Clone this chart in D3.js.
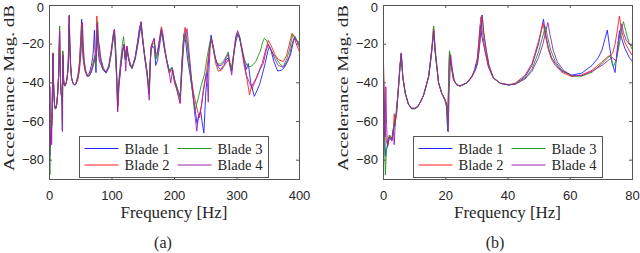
<!DOCTYPE html>
<html lang="en">
<head>
<meta charset="utf-8">
<title>Blade accelerance FRF</title>
<script src="https://d3js.org/d3.v7.min.js"></script>
<style>
  body { margin: 0; background: #fff; }
  svg { display: block; }
  .tick text { font-family: "Liberation Sans", Arial, sans-serif; font-size: 13px; fill: #262626; }
  .tick line { stroke: #555; }
</style>
</head>
<body>
<script>

// blade names (legend) and colours
const bladeNames = ["Blade 1", "Blade 2", "Blade 3", "Blade 4"];
const bladeColors = ["#1f1fff", "#ff1f1f", "#1f961f", "#9a22b0"];

// [frequency Hz, accelerance dB]
const blade1 = [
  [0,-35],[0.3,-62],[0.6,-78],[0.9,-74],[1.3,-73],[1.9,-68],[2.7,-70],[3.4,-63],[4.0,-57],[4.8,-43],[5.3,-32],[5.7,-25],
  [6.2,-37],[7.0,-45.4],[8.0,-51],[9.0,-53.2],[10.0,-53.2],[11.0,-52.3],[12.0,-49.5],[12.9,-46.3],[13.8,-41],[14.5,-36.8],
  [15.2,-28],[15.7,-21],[16.1,-14],[16.6,-24],[17.7,-40],[18.7,-45.4],[19.8,-49],[20.3,-52],[20.6,-65],[20.9,-45],[21.2,-26],
  [21.7,-30],[22.5,-38.5],[23.5,-41],[24.6,-41.6],[26.8,-40],[28.4,-36.8],[29.3,-33],[29.7,-30],[30.1,-28],[30.6,-20],
  [31.1,-10],[31.6,-16],[32.6,-23.5],[33.7,-31.6],[35.3,-37.6],[37.5,-40.2],[40.2,-41.2],[42.3,-40.5],[45.5,-36.8],
  [47.7,-31],[49.8,-20],[50.8,-12],[51.4,-7.1],[52.0,-14],[53.0,-22],[54.0,-27],[55.2,-30],[57.3,-34],[60.5,-36],
  [63.7,-35],[67.0,-31],[69.0,-27],[70.2,-23],[71.2,-17],[71.9,-12.7],[72.6,-21],[73.5,-30],[74.4,-34.7],[75.0,-24],
  [75.8,-13],[76.5,-17],[77.5,-22],[79.0,-27],[80.0,-29],
  [82,-30.5],[86,-33.5],[90.5,-35],[95,-32],[99,-24],[102,-17],[104,-14],[106,-24],[108,-40],[109.5,-52],[111,-42],
  [114,-32],[117,-24],[119,-21],[121,-28],[123.5,-22],[126,-27],[129,-31],[132,-32.5],[137,-28],[141,-21],[144,-15],
  [146.5,-10],[148.5,-17],[152,-26],[156,-35],[159.6,-45],[161,-30],[162.5,-23],[165,-21],[167.6,-22],[170,-31],[173,-28],
  [176,-21],[179,-14],[181,-17],[184,-23],[188,-29],[192,-34],[196,-32],[200,-39],[204,-43],[209,-47],[212,-28],[215,-15],
  [218,-19],[221,-28],[225,-36],[229,-45],[233,-54],[236,-61],[239,-57],[242,-55],[244,-60],[247,-66],[250,-45],[253,-35],
  [256,-22],[258.5,-15.3],[261,-20],[265,-27],[270,-32],[274,-33],[279,-31],[283,-28],[286,-27],[289,-31],[291.5,-34],
  [295,-25],[298,-19],[301,-15],[304,-17],[308,-23],[312,-29],[315,-33],[318,-30],[322,-40],[327.7,-47],[332,-44],
  [336,-41],[341,-35],[345,-30],[349,-24],[352,-21],[355,-24],[359,-29],[365,-33.9],[371,-33.5],[376,-32],[381,-29],
  [386,-25],[390,-19],[392.5,-16],[395,-18],[398,-19],[400,-19]
];
const blade2 = [
  [0,-29],[0.3,-50],[0.6,-66],[0.9,-70],[1.3,-72],[1.9,-67],[2.7,-69],[3.2,-63],[3.45,-56],[3.7,-62],[4.2,-55],[4.8,-42],
  [5.3,-31],[5.7,-24.5],[6.2,-37],[7.0,-45.4],[8.0,-51],[9.0,-53.2],[10.0,-53.2],[11.0,-52.3],[12.0,-49.5],[12.9,-46.3],
  [13.8,-41],[14.5,-36.5],[15.2,-27],[15.7,-19],[16.1,-10.6],[16.6,-24],[17.7,-40],[18.7,-45.4],[19.8,-48.5],[20.3,-51],
  [20.6,-60],[20.9,-40],[21.2,-23.5],[21.6,-30],[22.5,-38.5],[23.5,-41],[24.6,-41.6],[26.8,-40],[28.4,-36.5],[29.5,-33],
  [29.9,-31.5],[30.3,-25],[30.8,-15],[31.3,-5.8],[31.8,-14],[32.6,-23],[33.7,-31.6],[35.3,-37.6],[37.5,-40.2],[40.2,-41],
  [42.3,-40.2],[45.5,-36],[47.7,-30],[49.8,-18.5],[50.7,-13],[51.3,-9.2],[51.9,-15],[53.0,-23],[54.0,-28],[55.2,-31],
  [57.3,-34.5],[60.5,-36.8],[63.7,-35.9],[67.0,-33.5],[70.0,-29.5],[72.0,-26.5],[73.2,-25.5],[73.6,-24.7],[74.4,-20],
  [75.2,-12],[75.8,-5.4],[76.5,-13],[77.5,-19],[79.0,-23.5],[80.0,-26],
  [82,-29],[86,-33],[90.5,-34.5],[95,-31],[99,-23],[102,-15],[103.5,-12.5],[105,-20],[107,-35],[109,-55],[111,-42],
  [114,-31],[117,-23],[119.5,-20],[121,-27],[123.5,-21],[126,-26],[129,-30],[132,-32],[137,-27],[141,-19],[144,-12],
  [146.5,-8.4],[148.5,-15],[152,-25],[156,-34],[159.6,-46],[161,-30],[162.5,-21],[165,-19],[167.6,-17],[170,-27],
  [173,-24],[176,-17],[179,-11],[181,-14],[184,-21],[188,-29],[192,-35],[196,-33],[200,-40],[204,-44],[209,-50.6],
  [212,-32],[214.5,-16],[217,-11.3],[220,-18],[223,-27],[227,-38],[231,-46],[235,-52],[238,-56],[240,-58],[243,-52],
  [246,-45],[251,-35],[256,-22],[259,-17],[262,-22],[266,-30],[270,-34],[275,-33.5],[280,-31],[286,-28],[291.5,-32],
  [295,-24],[298,-17],[301,-14],[304,-16],[308,-24],[312,-32],[316,-38],[320,-46.3],[323,-42],[330,-38],[335,-34],
  [340,-30],[345,-24],[350,-18],[355,-21],[360,-25],[366,-28],[374,-29],[379,-26],[383,-21],[386,-17],[388,-14.4],
  [391,-16],[395,-20],[400,-24]
];
const blade3 = [
  [0,-42],[0.3,-70],[0.6,-87.7],[0.9,-76],[1.3,-71],[1.9,-67],[2.7,-69],[3.4,-61],[4.0,-57],[4.8,-43],[5.3,-32],[5.7,-25],
  [6.2,-37],[7.0,-45.4],[8.0,-51],[9.0,-53.5],[10.0,-53.5],[11.0,-52.5],[12.0,-49.5],[12.9,-46.3],[13.8,-41],[14.5,-36.8],
  [15.2,-27],[15.7,-19],[16.1,-10.6],[16.6,-24],[17.7,-40],[18.7,-45.4],[19.8,-49.5],[20.3,-53],[20.6,-64],[20.9,-42],
  [21.2,-23.5],[21.6,-29],[22.5,-38],[23.5,-41],[24.6,-41.8],[26.8,-40.2],[28.4,-37],[29.5,-33.5],[30.2,-30],[30.8,-22],
  [31.3,-13],[31.7,-4.9],[32.2,-14],[33.0,-23],[33.9,-31],[35.3,-37.3],[37.5,-40.2],[40.2,-41],[42.3,-40.6],[45.5,-37.5],
  [47.7,-33],[49.8,-24],[51.0,-17],[52.0,-10.9],[52.7,-16],[53.7,-23],[55.2,-29],[57.3,-33.5],[60.5,-36.5],[63.7,-36.5],
  [67.0,-34.5],[70.2,-30],[71.8,-27.5],[72.8,-26],[73.9,-31.6],[74.8,-28],[75.8,-20],[76.5,-13],[77.1,-8.4],[77.8,-13],
  [78.8,-19],[80.0,-23],
  [82,-27],[86,-32],[90.5,-34.7],[95,-32],[99,-25],[102,-16],[103.5,-14],[105,-22],[107,-35],[109,-50],[111,-38],
  [114,-28],[117,-19],[118.5,-16.1],[120,-22],[122,-28],[124,-23],[127,-28],[132,-32.5],[137,-27],[141,-19],[144,-12],
  [146.5,-9],[148.5,-16],[152,-25],[156,-34],[159.6,-44],[161,-30],[162.5,-23],[165,-20],[167.6,-19],[170,-28],[173,-25],
  [176,-18],[179,-13],[181,-16],[184,-22],[188,-29],[192,-34],[196,-32],[200,-38],[204,-42],[209,-48],[212,-30],
  [214.5,-18],[217,-14],[220,-20],[223,-28],[227,-40],[230,-48],[233,-54],[238,-48],[243,-41],[248,-35.5],[252,-27],
  [256,-20],[258.5,-17],[261,-21],[264,-26],[268,-30],[273,-30.4],[278,-29],[283,-26],[286,-24],[289,-30],[291.5,-33],
  [295,-24],[298,-17],[301,-14],[304,-16],[308,-22],[312,-28],[316,-31],[321,-31.7],[326,-30.5],[330,-29],[334,-26],
  [338,-23],[341,-19],[343.7,-17],[347,-18],[351,-21],[356,-24],[362,-27],[368,-30],[374,-31.7],[379,-28],[384,-23],
  [387,-18],[389.5,-15],[392,-16],[396,-18],[400,-20]
];
const blade4 = [
  [0,-40],[0.3,-58],[0.5,-68],[0.75,-42],[1.0,-62],[1.3,-73],[1.9,-68],[2.7,-70],[3.2,-64],[3.45,-72],[3.8,-60],[4.3,-55],
  [4.8,-42],[5.3,-31],[5.7,-24.7],[6.2,-37],[7.0,-45.4],[8.0,-51],[9.0,-53.2],[10.0,-53.2],[11.0,-52.3],[12.0,-49.5],
  [12.9,-46.3],[13.8,-41],[14.5,-36.8],[15.2,-28],[15.7,-20],[16.2,-13],[16.7,-24],[17.7,-40],[18.7,-45.4],[19.8,-49],
  [20.4,-52],[20.8,-65.3],[21.1,-45],[21.6,-25.5],[22.1,-33],[22.8,-39],[23.5,-41],[24.6,-41.6],[26.8,-40],[28.4,-36.8],
  [29.5,-33],[30.2,-30],[30.8,-22],[31.3,-13],[31.7,-4.9],[32.2,-14],[33.0,-23],[33.9,-31],[35.3,-37.3],[37.5,-40.2],
  [40.2,-41],[42.3,-40.8],[45.5,-38],[47.7,-34],[49.8,-27],[51.2,-20],[52.2,-13],[52.8,-8.8],[53.5,-15],[54.5,-23],
  [55.8,-29],[57.8,-33.5],[60.5,-36.3],[63.7,-36.3],[67.0,-34],[70.2,-31],[72.5,-28],[73.5,-27],[74.8,-28.7],[75.5,-20],
  [76.0,-14],[76.5,-9.5],[77.1,-14],[78.0,-18],[79.0,-20],[80.0,-21],
  [82,-28],[86,-33],[90.5,-34.5],[95,-31],[99,-23],[102,-15],[104,-12.3],[105.5,-20],[107.5,-36],[109,-55],[110.5,-42],
  [114,-31],[117,-23],[119.5,-20],[121,-27],[122,-34],[124,-21],[126,-26],[129,-31],[132,-32.5],[137,-27],[141,-19],
  [144,-12],[146.5,-8.4],[148.5,-15],[152,-26],[156,-36],[159.6,-49],[161,-32],[162.5,-22],[165,-19],[167.6,-17],
  [170,-25],[173,-24],[176,-18],[179,-12],[181,-15],[184,-22],[188,-30],[192,-36],[194,-40],[197,-33],[201,-40],
  [205,-45],[209,-50.6],[212,-33],[215,-20],[217,-16],[220,-12],[222,-19],[225,-30],[229,-44],[232,-55],[235.7,-65],
  [238,-58],[241,-55],[243,-52],[246,-44],[248,-40],[251,-35],[253,-42],[254,-50],[255,-35],[257,-22],[259,-17],
  [262,-21],[266,-28],[270,-31],[275,-31],[280,-29],[283,-27],[286,-25],[289,-32],[291.5,-36],[295,-25],[298,-16],
  [301,-13],[304,-16],[308,-23],[312,-30],[315,-36],[320,-40],[324,-43],[328,-40],[332,-37],[337,-33],[342,-30],
  [346,-24],[350,-20],[353,-22],[356,-24],[361,-28],[366,-31],[374,-32],[379,-29.5],[384,-26],[388,-20],[391,-17],
  [395,-18],[398,-20],[400,-22]
];
const blades = [blade1, blade2, blade3, blade4];

// tick labels
const xTicksA = [0, 100, 200, 300, 400];
const xTicksB = [0, 20, 40, 60, 80];
const yTicks = [0, -20, -40, -60, -80];

const w = 640;
const h = 253;
const yTop = 5, yBottom = 179;
const serif = "'Liberation Serif', 'DejaVu Serif', 'Times New Roman', serif";

const panels = [
  { id: "a", left: 49, right: 299, xMax: 400, xTicks: xTicksA, caption: "(a)", capX: 163 },
  { id: "b", left: 383, right: 632, xMax: 80, xTicks: xTicksB, caption: "(b)", capX: 495 }
];

const svg = d3.select("body").append("svg")
  .attr("width", w)
  .attr("height", h);

function label(x, y, txt, size) {
  return svg.append("text")
    .attr("x", x).attr("y", y)
    .style("font-family", serif)
    .style("font-size", size + "px")
    .attr("fill", "#262626")
    .text(txt);
}

panels.forEach(function (p) {
  const xScale = d3.scaleLinear().domain([0, p.xMax]).range([p.left, p.right]);
  const yScale = d3.scaleLinear().domain([-90, 0]).range([yBottom, yTop]);

  svg.append("clipPath").attr("id", "clip-" + p.id)
    .append("rect")
    .attr("x", p.left).attr("y", yTop)
    .attr("width", p.right - p.left + 1).attr("height", yBottom - yTop + 1);

  const line = d3.line()
    .x(d => xScale(d[0]) + 0.5)
    .y(d => yScale(d[1]) + 0.5);

  const lines = svg.append("g").attr("clip-path", "url(#clip-" + p.id + ")");
  blades.forEach(function (b, i) {
    lines.append("path")
      .datum(b.filter(d => d[0] <= p.xMax))
      .attr("d", line)
      .attr("fill", "none")
      .attr("stroke", bladeColors[i])
      .attr("stroke-width", 0.9)
      .attr("stroke-linejoin", "round");
  });

  // axes, ticks pointing inward on all four sides
  const clean = g => g.attr("font-family", null).attr("font-size", null).select(".domain").remove();
  svg.append("g")
    .attr("transform", "translate(0," + yBottom + ")")
    .call(d3.axisBottom(xScale).tickValues(p.xTicks).tickSizeInner(-3).tickSizeOuter(0).tickPadding(12))
    .call(clean);
  svg.append("g")
    .attr("transform", "translate(0," + yTop + ")")
    .call(d3.axisTop(xScale).tickValues(p.xTicks).tickSizeInner(-3).tickSizeOuter(0).tickFormat(""))
    .call(clean);
  svg.append("g")
    .attr("transform", "translate(" + p.left + ",0)")
    .call(d3.axisLeft(yScale).tickValues(yTicks).tickSizeInner(-3).tickSizeOuter(0).tickPadding(5))
    .call(clean)
    .selectAll(".tick text")
    .filter(d => d === 0)
    .attr("dy", "0.5em");   // keep the top label inside the page
  svg.append("g")
    .attr("transform", "translate(" + p.right + ",0)")
    .call(d3.axisRight(yScale).tickValues(yTicks).tickSizeInner(-3).tickSizeOuter(0).tickFormat(""))
    .call(clean);

  svg.append("rect")
    .attr("x", p.left + 0.5).attr("y", yTop + 0.5)
    .attr("width", p.right - p.left).attr("height", yBottom - yTop)
    .attr("fill", "none")
    .attr("stroke", "#555")
    .attr("stroke-width", 1);

  // legend
  const lx = p.left + 30.5, ly = 136.5;
  const leg = svg.append("g").attr("transform", "translate(" + lx + "," + ly + ")");
  leg.append("rect")
    .attr("width", 189).attr("height", 41)
    .attr("fill", "#fff").attr("stroke", "#555");
  bladeNames.forEach(function (name, i) {
    const col = Math.floor(i / 2), row = i % 2;
    const x0 = col === 0 ? 5 : 98;
    const yy = row === 0 ? 12 : 28.5;
    leg.append("line")
      .attr("x1", x0).attr("x2", x0 + 34)
      .attr("y1", yy).attr("y2", yy)
      .attr("stroke", bladeColors[i]).attr("stroke-width", 1);
    leg.append("text")
      .attr("x", x0 + 40).attr("y", yy + 5)
      .style("font-family", serif)
      .style("font-size", "15px")
      .attr("fill", "#262626")
      .attr("textLength", 45)
      .attr("lengthAdjust", "spacingAndGlyphs")
      .text(name);
  });

  // labels
  const mid = (p.left + p.right) / 2;
  label(mid, 218, "Frequency [Hz]", 16)
    .attr("text-anchor", "middle")
    .attr("textLength", 107)
    .attr("lengthAdjust", "spacingAndGlyphs");
  label(0, 0, "Accelerance Mag. dB", 15)
    .attr("transform", "translate(" + (p.left - 35.5) + ",88) rotate(-90)")
    .attr("text-anchor", "middle")
    .attr("textLength", 166)
    .attr("lengthAdjust", "spacingAndGlyphs");
  label(p.capX, 248, p.caption, 16)
    .attr("text-anchor", "middle");
});

</script>
</body>
</html>
